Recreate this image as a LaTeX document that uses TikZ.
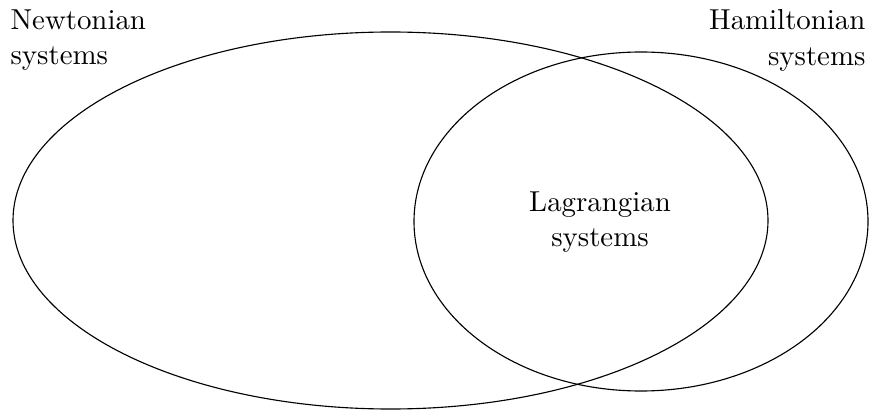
\documentclass[tikz,border=0pt]{standalone}
\usepackage{fontspec}
\begin{document}
\begin{tikzpicture}[x=0.357pt,y=-0.357pt,
  lbl/.style={inner sep=0pt, font=\fontsize{10.3}{12.7}\selectfont}]
\useasboundingbox (0,0) rectangle (871,410);
\draw[line width=0.4pt] (390.5,220.5) ellipse [x radius=377.5, y radius=188.5];
\draw[line width=0.4pt] (641,221.5) ellipse [x radius=227, y radius=169.5];
\node[lbl, anchor=north west, align=left] (newton) at (10,9) {Newtonian\\systems};
\node[lbl, anchor=north east, align=right] (hamilton) at (866,9) {Hamiltonian\\systems};
\node[lbl, align=center] (lagrange) at (600,222) {Lagrangian\\systems};
\end{tikzpicture}
\end{document}
